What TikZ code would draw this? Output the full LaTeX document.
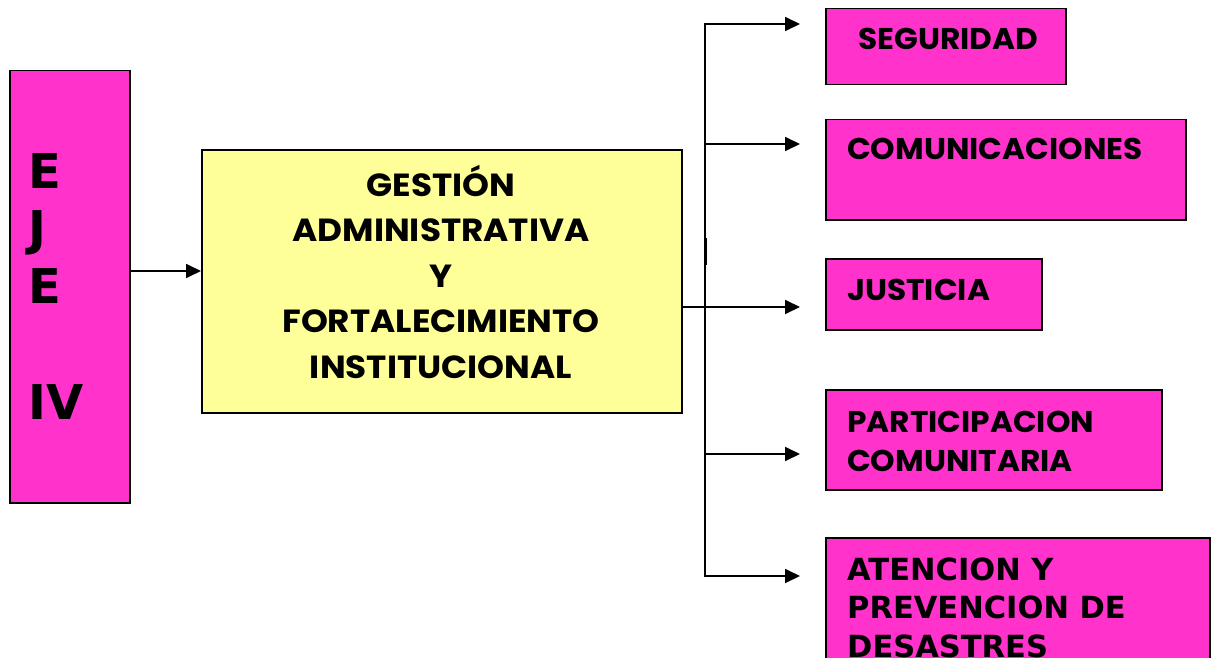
\documentclass[tikz,border=0pt]{standalone}
\usepackage{fontspec}
\newfontfamily\gothic{Poppins}[FakeStretch=1.04]
\newfontfamily\gothicw{Poppins}[FakeStretch=1.07]
\newfontfamily\verd{DejaVu Sans}
\usetikzlibrary{arrows.meta}
\definecolor{mag}{HTML}{FF33CC}
\definecolor{yel}{HTML}{FFFF99}
\begin{document}
\begin{tikzpicture}[x=1pt,y=-1pt,
  boxst/.style={draw=black,line width=1.5pt,inner sep=0pt,anchor=north west},
  conn/.style={line width=1.8pt},
  arr/.style={conn,-{Triangle[length=15pt,width=14pt]}},
  gtxt/.style={inner sep=0pt,font=\gothic\bfseries\fontsize{30}{39}\selectfont,align=left},
  vtxt/.style={inner sep=0pt,font=\verd\bfseries\fontsize{30.5}{38.5}\selectfont,align=left}]
\useasboundingbox (0,0) rectangle (1212,658);
\clip (0,0) rectangle (1212,658);
% boxes
\node[boxst,fill=mag,minimum width=120pt,minimum height=432pt] (eje) at (9,70) {};
\node[boxst,fill=yel,minimum width=480pt,minimum height=263pt] (gest) at (201,149) {};
\node[boxst,fill=mag,minimum width=240pt,minimum height=76pt] (seg) at (825,8) {};
\node[boxst,fill=mag,minimum width=360pt,minimum height=100pt] (com) at (825,119) {};
\node[boxst,fill=mag,minimum width=216pt,minimum height=71pt] (jus) at (825,258) {};
\node[boxst,fill=mag,minimum width=336pt,minimum height=100pt] (par) at (825,389) {};
\node[boxst,fill=mag,minimum width=384pt,minimum height=160pt] (ate) at (825,537) {};
% texts (base anchor = last line's baseline)
\node[inner sep=0pt,anchor=base west,font=\verd\bfseries\fontsize{48}{57.7}\selectfont,align=left] (ejet) at (28,419) {E\\J\\E\\[57.7pt]IV};
\node[inner sep=0pt,anchor=base,font=\gothicw\bfseries\fontsize{32}{45.5}\selectfont,align=center] (gestt) at (441,378) {GESTIÓN\\ADMINISTRATIVA\\Y\\FORTALECIMIENTO\\INSTITUCIONAL};
\node[gtxt,anchor=base west] (segt) at (858,50) {SEGURIDAD};
\node[gtxt,anchor=base west] (comt) at (847,159) {COMUNICACIONES};
\node[gtxt,anchor=base west] (just) at (847,300) {JUSTICIA};
\node[gtxt,anchor=base west] (part) at (847,471) {PARTICIPACION\\COMUNITARIA};
\node[vtxt,anchor=base west] (atet) at (847,657) {ATENCION Y\\PREVENCION DE\\DESASTRES};
% connectors
\coordinate (ea) at (129,271);
\draw[arr] (ea) -- (ea -| gest.west);
\coordinate (hub) at (705,307);
\coordinate (t1) at (800,24);
\coordinate (t2) at (800,144);
\coordinate (t3) at (800,307);
\coordinate (t4) at (800,454);
\coordinate (t5) at (800,576);
\draw[conn] (hub -| gest.east) -- (hub);
\draw[arr] (hub) |- (t1);
\draw[arr] (hub) |- (t2);
\draw[arr] (hub) -- (t3);
\draw[arr] (hub) |- (t4);
\draw[arr] (hub) |- (t5);
\draw[line width=3pt] (705,238) -- (705,265);
\end{tikzpicture}
\end{document}
